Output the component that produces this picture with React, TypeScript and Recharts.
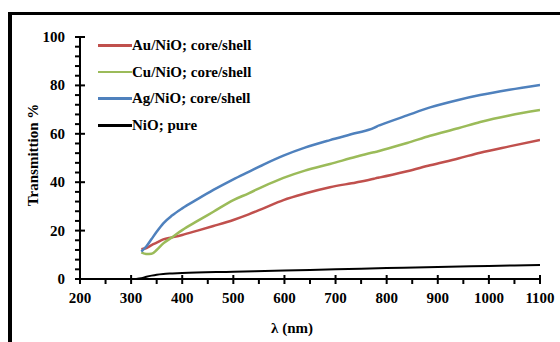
import React from 'react';
import { LineChart, Line, XAxis, YAxis, Legend, Label } from 'recharts';

// wavelength (nm) for the three core/shell samples
const wlShell = [320, 330, 340, 350, 363, 380, 400, 430, 461, 500, 530, 559, 598, 640, 689, 740, 775, 782, 787, 840, 885, 940, 983, 1040, 1100];
const auNiO = [12.3, 12.8, 14.0, 15.0, 16.4, 17.2, 18.2, 20.0, 21.9, 24.4, 26.7, 29.2, 32.6, 35.3, 37.9, 39.9, 41.4, 41.8, 42.0, 44.5, 47.0, 49.8, 52.2, 54.8, 57.4];
const cuNiO = [11.0, 10.3, 10.4, 12.0, 14.7, 17.2, 20.2, 24.0, 27.8, 32.6, 35.4, 38.3, 41.8, 44.8, 47.5, 50.5, 52.4, 52.7, 53.0, 56.2, 59.2, 62.3, 64.9, 67.6, 69.8];
const agNiO = [11.3, 13.5, 16.5, 19.5, 23.0, 26.2, 29.2, 33.0, 36.8, 41.2, 44.3, 47.3, 51.0, 54.3, 57.4, 60.3, 62.4, 63.2, 63.6, 67.6, 70.9, 74.0, 76.0, 78.2, 80.2];

// pure NiO
const wlPure = [310, 320, 330, 340, 350, 363, 380, 400, 500, 600, 700, 800, 900, 1000, 1100];
const pureNiO = [0, 0.3, 0.9, 1.4, 1.8, 2.1, 2.3, 2.5, 3.0, 3.5, 4.0, 4.5, 5.0, 5.4, 5.8];

const xTicks = [200, 250, 300, 350, 400, 450, 500, 550, 600, 650, 700, 750, 800, 850, 900, 950, 1000, 1050, 1100];
const yTicks = [0, 4, 8, 12, 16, 20, 24, 28, 32, 36, 40, 44, 48, 52, 56, 60, 64, 68, 72, 76, 80, 84, 88, 92, 96, 100];

const FONT = '"Liberation Serif", "Times New Roman", serif';

const shellData = wlShell.map((wl, i) => ({ wl, au: auNiO[i], cu: cuNiO[i], ag: agNiO[i] }));
const pureData = wlPure.map((wl, i) => ({ wl, nio: pureNiO[i] }));

const series = [
  { key: 'au', name: 'Au/NiO; core/shell', color: '#C0504D' },
  { key: 'cu', name: 'Cu/NiO; core/shell', color: '#9BBB59' },
  { key: 'ag', name: 'Ag/NiO; core/shell', color: '#4F81BD' },
  { key: 'nio', name: 'NiO; pure', color: '#000000' },
];

const XTick = (props: any) => {
  const { x, y, payload } = props;
  const major = payload.value % 100 === 0;
  return (
    <g>
      <line x1={x} x2={x} y1={major ? y - 4 : y} y2={y + 5} stroke="#000" strokeWidth={2} />
      {major && (
        <text x={x} y={y + 24} textAnchor="middle" fontFamily={FONT} fontWeight="bold" fontSize={15} fill="#000">
          {payload.value}
        </text>
      )}
    </g>
  );
};

const YTick = (props: any) => {
  const { x, y, payload } = props;
  const major = payload.value % 20 === 0;
  return (
    <g>
      <line x1={x - 5} x2={major ? x + 5 : x} y1={y} y2={y} stroke="#000" strokeWidth={2} />
      {major && (
        <text x={x - 15} y={y + 5} textAnchor="end" fontFamily={FONT} fontWeight="bold" fontSize={15} fill="#000">
          {payload.value}
        </text>
      )}
    </g>
  );
};

const renderLegend = () => (
  <div style={{ fontFamily: FONT, fontWeight: 'bold', fontSize: 15, color: '#000' }}>
    {series.map((s) => (
      <div key={s.key} style={{ display: 'flex', alignItems: 'center', height: 26.7 }}>
        <div style={{ width: 34, height: 2.5, background: s.color }} />
        <span style={{ whiteSpace: 'nowrap' }}>{s.name}</span>
      </div>
    ))}
  </div>
);

export default function App() {
  return (
    <div style={{ position: 'fixed', left: 0, top: 0, width: 560, height: 342, overflow: 'hidden', background: '#fff' }}>
      <div
        style={{
          position: 'absolute',
          left: 8,
          top: 12,
          width: 700,
          height: 500,
          borderTop: '3px solid #000',
          borderLeft: '4px solid #000',
        }}
      />
      <div style={{ position: 'absolute', left: 0, top: 0 }}>
        <LineChart width={560} height={342} margin={{ top: 37, right: 20, bottom: 0, left: 0 }}>
          <XAxis
            dataKey="wl"
            type="number"
            domain={[200, 1100]}
            ticks={xTicks}
            interval={0}
            height={63}
            tickSize={0}
            tickMargin={0}
            tickLine={false}
            axisLine={{ stroke: '#000', strokeWidth: 2 }}
            tick={(p: any) => <XTick {...p} />}
            allowDataOverflow
          >
            <Label
              content={(p: any) => {
                const vb = p.viewBox;
                return (
                  <text x={vb.x + vb.width / 2 - 18} y={vb.y + 54} textAnchor="middle" fontFamily={FONT} fontWeight="bold" fontSize={15} fill="#000">
                    λ (nm)
                  </text>
                );
              }}
            />
          </XAxis>
          <YAxis
            type="number"
            domain={[0, 100]}
            ticks={yTicks}
            interval={0}
            width={80}
            tickSize={0}
            tickMargin={0}
            tickLine={false}
            axisLine={{ stroke: '#000', strokeWidth: 2 }}
            tick={(p: any) => <YTick {...p} />}
          >
            <Label
              content={(p: any) => {
                const vb = p.viewBox;
                const cx = 33;
                const cy = vb.y + vb.height / 2 - 3;
                return (
                  <text x={cx} y={cy} transform={`rotate(-90 ${cx} ${cy})`} textAnchor="middle" dominantBaseline="central" fontFamily={FONT} fontWeight="bold" fontSize={15} fill="#000">
                    Transmittion %
                  </text>
                );
              }}
            />
          </YAxis>
          <Legend layout="vertical" align="center" verticalAlign="middle" wrapperStyle={{ left: 98, top: 32, width: 'auto' }} content={renderLegend} />
          <Line data={shellData} dataKey="au" name="Au/NiO; core/shell" stroke="#C0504D" strokeWidth={2.5} dot={false} isAnimationActive={false} type="monotone" />
          <Line data={shellData} dataKey="cu" name="Cu/NiO; core/shell" stroke="#9BBB59" strokeWidth={2.5} dot={false} isAnimationActive={false} type="monotone" />
          <Line data={shellData} dataKey="ag" name="Ag/NiO; core/shell" stroke="#4F81BD" strokeWidth={2.5} dot={false} isAnimationActive={false} type="monotone" />
          <Line data={pureData} dataKey="nio" name="NiO; pure" stroke="#000" strokeWidth={2} dot={false} isAnimationActive={false} type="monotone" />
        </LineChart>
      </div>
    </div>
  );
}
